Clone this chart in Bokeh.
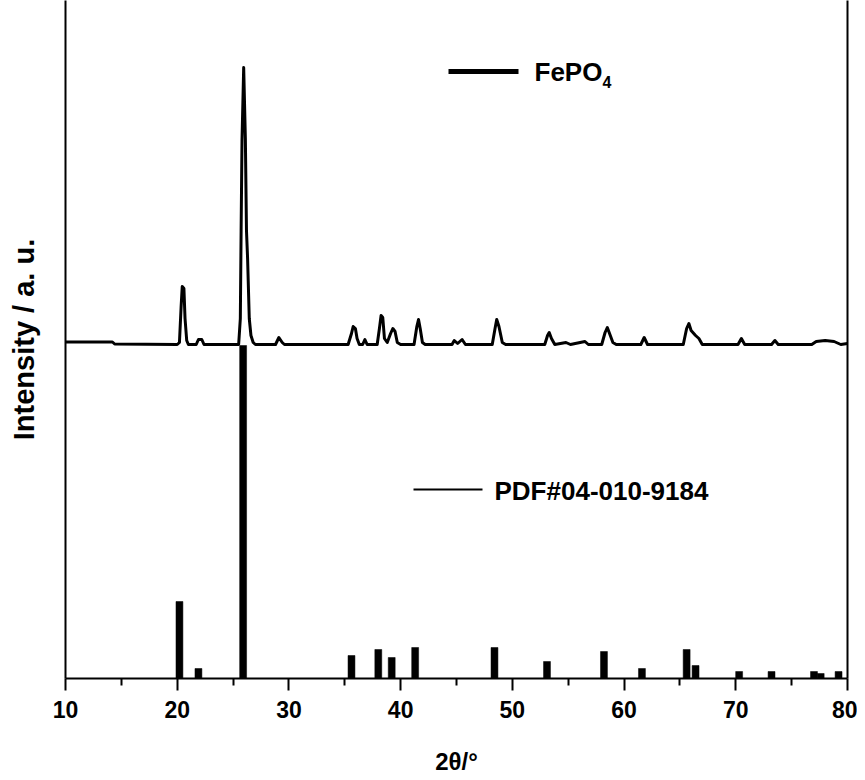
from bokeh.plotting import figure
from bokeh.models import (Range1d, FixedTicker, LinearAxis, Label, ColumnDataSource)
from bokeh.embed import file_html
from bokeh.resources import INLINE

# ---- data ----
# FePO4 measured pattern, offset upward (2theta, intensity in arbitrary units)
fepo4_2theta = [10.0, 14.2, 14.4, 20.0, 20.2, 20.35, 20.45, 20.6, 20.7, 20.85, 21.0,
                21.7, 21.9, 22.2, 22.4,
                25.5, 25.65, 25.72, 25.8, 25.95, 26.1, 26.2, 26.3, 26.45, 26.6, 26.8, 27.0,
                28.8, 29.1, 29.4, 29.6,
                35.3, 35.6, 35.75, 35.95, 36.1, 36.3, 36.6, 36.8, 37.0,
                37.9, 38.1, 38.25, 38.4, 38.55, 38.8, 39.1, 39.3, 39.5, 39.7, 40.0,
                41.2, 41.45, 41.6, 41.75, 41.95, 42.2,
                44.6, 44.8, 45.1, 45.5, 45.8,
                48.2, 48.45, 48.6, 48.8, 49.1, 49.4,
                52.9, 53.15, 53.3, 53.5, 53.8,
                54.8, 55.2, 56.5, 56.8,
                58.0, 58.3, 58.5, 58.7, 59.0, 59.3,
                61.5, 61.8, 62.1,
                65.3, 65.6, 65.8, 66.0, 66.4, 66.7, 67.0,
                70.2, 70.5, 70.8,
                73.2, 73.5, 73.8,
                76.8, 77.2, 78.0, 78.8, 79.4, 80.0]
fepo4_intensity = [336.5, 336.5, 334.5, 334, 336, 372, 392, 390, 360, 338, 334,
                   334, 339, 339, 334,
                   334, 360, 448, 538, 611, 540, 448, 420, 360, 343, 336, 334,
                   334, 341, 336, 334,
                   334, 345, 352, 350, 340, 334, 334, 339, 334,
                   334, 350, 363, 361, 340, 336, 345, 350, 347, 336, 334,
                   334, 352, 359, 350, 336, 334,
                   334, 338, 335, 339, 334,
                   334, 350, 359, 352, 336, 334,
                   334, 343, 346, 340, 334,
                   336, 334, 337, 334,
                   334, 346, 351, 345, 336, 334,
                   334, 341, 334,
                   334, 350, 355, 348, 343, 340, 334,
                   334, 340, 334,
                   334, 338, 334,
                   334, 337, 338, 337, 334, 335]

# Reference card PDF#04-010-9184 stick positions and intensities
pdf_2theta = [20.2, 21.9, 25.9, 35.6, 38.0, 39.2, 41.3, 48.4, 53.1, 58.2, 61.6,
              65.6, 66.4, 70.3, 73.2, 77.0, 77.6, 79.2]
pdf_intensity = [77, 10, 333, 23, 29, 21, 31, 31, 17, 27, 10,
                 29, 13, 7, 7, 7, 5, 7]

x_ticks = [10, 20, 30, 40, 50, 60, 70, 80]
x_minor_ticks = [15, 25, 35, 45, 55, 65, 75]

FONT = "Liberation Sans"

p = figure(frame_width=782, frame_height=678, output_backend="svg", toolbar_location=None,
           x_range=Range1d(10, 80), y_range=Range1d(0, 678),
           min_border_left=65, min_border_right=10, min_border_top=0,
           min_border_bottom=0, x_axis_location=None, y_axis_location=None)
p.outline_line_color = None
p.xgrid.visible = False
p.ygrid.visible = False
p.background_fill_color = "white"
p.border_fill_color = "white"

# x axis
xa = LinearAxis(ticker=FixedTicker(ticks=x_ticks, minor_ticks=x_minor_ticks))
xa.axis_label = "2θ/°"
xa.axis_label_text_font = FONT
xa.axis_label_text_font_style = "bold"
xa.axis_label_text_font_size = "24px"
xa.axis_label_text_color = "black"
xa.axis_label_standoff = 27
xa.major_label_text_font = FONT
xa.major_label_text_font_style = "bold"
xa.major_label_text_font_size = "23px"
xa.major_label_text_color = "black"
xa.major_label_standoff = 10
xa.axis_line_width = 2
xa.major_tick_line_width = 2
xa.minor_tick_line_width = 2
xa.major_tick_in = 0
xa.major_tick_out = 12
xa.minor_tick_in = 0
xa.minor_tick_out = 7
p.add_layout(xa, "below")

# left y axis (line only, with title)
ya = LinearAxis(ticker=FixedTicker(ticks=[]))
ya.axis_label = "Intensity / a. u."
ya.axis_label_text_font = FONT
ya.axis_label_text_font_style = "bold"
ya.axis_label_text_font_size = "29px"
ya.axis_label_text_color = "black"
ya.axis_label_standoff = 26
ya.axis_line_width = 2
ya.major_tick_line_color = None
ya.minor_tick_line_color = None
p.add_layout(ya, "left")

# right y axis (line only)
ya2 = LinearAxis(ticker=FixedTicker(ticks=[]))
ya2.axis_line_width = 2
ya2.major_tick_line_color = None
ya2.minor_tick_line_color = None
p.add_layout(ya2, "right")

# reference sticks
src_pdf = ColumnDataSource(dict(x=pdf_2theta, top=pdf_intensity))
p.vbar(x="x", top="top", bottom=0, width=0.62, source=src_pdf,
       fill_color="black", line_color="black", line_width=0.5)

# measured pattern
src_fe = ColumnDataSource(dict(x=fepo4_2theta, y=fepo4_intensity))
p.line(x="x", y="y", source=src_fe, line_color="black", line_width=3,
       line_join="round")

# legends (manual, positioned in pixel-derived data coords)
def px_x(px):
    return 10 + (px - 65) * 70.0 / 782.0

def px_y(py):
    return 678 - py

p.line(x=[px_x(448), px_x(518)], y=[px_y(71), px_y(71)], line_color="black", line_width=5)
p.add_layout(Label(x=px_x(534), y=px_y(71), text="FePO", text_font=FONT,
                   text_font_style="bold", text_font_size="26px", text_baseline="middle",
                   text_color="black"))
p.add_layout(Label(x=px_x(602), y=px_y(81), text="4", text_font=FONT,
                   text_font_style="bold", text_font_size="16px", text_baseline="middle",
                   text_color="black"))

p.line(x=[px_x(413), px_x(482)], y=[px_y(489), px_y(489)], line_color="black", line_width=2)
p.add_layout(Label(x=px_x(494), y=px_y(490), text="PDF#04-010-9184", text_font=FONT,
                   text_font_style="bold", text_font_size="26px", text_baseline="middle",
                   text_color="black"))

open("out.html", "w").write(file_html(p, INLINE))
